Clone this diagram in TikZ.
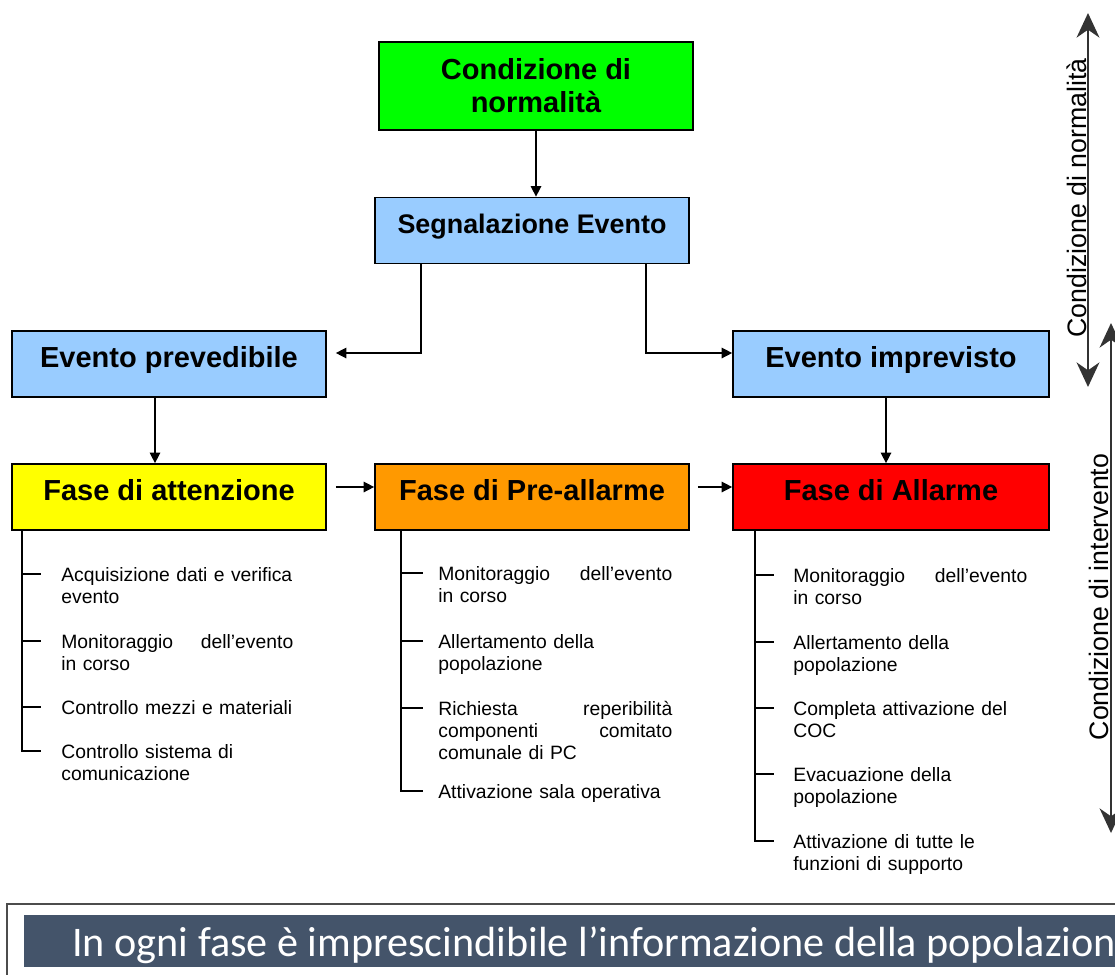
\documentclass[tikz,border=0pt]{standalone}
\usepackage{fontspec}
\setmainfont{Liberation Sans}
\newfontfamily\calibri{Carlito}
\usetikzlibrary{arrows.meta}

\definecolor{verde}{HTML}{00FF00}
\definecolor{azzurro}{HTML}{99CCFF}
\definecolor{giallo}{HTML}{FFFF00}
\definecolor{arancio}{HTML}{FF9900}
\definecolor{rosso}{HTML}{FF0000}
\definecolor{ardesia}{HTML}{44546A}

\tikzset{
  box/.style={draw=black, line width=1pt, minimum width=6.28cm, inner xsep=0pt, font=\bfseries\fontsize{16.5}{18.7}\selectfont},
  riga/.style={inner ysep=0pt, text height=0.72cm, text depth=0.6cm},
  freccia/.style={line width=0.8pt, -{Triangle[length=6pt,width=6pt]}},
  voce/.style={anchor=north west, inner sep=0pt, text width=4.68cm, align=left, font=\fontsize{11}{12.5}\selectfont},
  ramo/.style={line width=1pt},
  fascia/.style={line width=1.1pt, draw=black!80, {Stealth[length=14pt,width=13pt,inset=4.5pt]}-{Stealth[length=14pt,width=13pt,inset=4.5pt]}},
  scritta/.style={rotate=90, anchor=base, inner sep=0pt, font=\fontsize{15.2}{18}\selectfont}
}

\begin{document}
\begin{tikzpicture}[x=0.02cm, y=-0.02cm]
\useasboundingbox (0,0) rectangle (1115,974);

% caselle
\node[box, fill=verde, minimum height=1.76cm, align=center] (cond) at (536,86) {Condizione di\\normalità};
\node[box, riga, fill=azzurro, font=\bfseries\fontsize{15.3}{18}\selectfont] (segn) at (532,230.5) {Segnalazione Evento};
\node[box, riga, fill=azzurro] (prev) at (169,364) {Evento prevedibile};
\node[box, riga, fill=azzurro, minimum width=6.32cm] (impr) at (891,364) {Evento imprevisto};
\node[box, riga, fill=giallo] (att) at (169,497) {Fase di attenzione};
\node[box, riga, fill=arancio] (pre) at (532,497) {Fase di Pre-allarme};
\node[box, riga, fill=rosso, minimum width=6.32cm] (all) at (891,497) {Fase di Allarme};

% frecce
\draw[freccia] (cond.south) -- (cond.south |- segn.north);
\draw[freccia] ([xshift=0.94cm]segn.south west) |- ([xshift=0.18cm, yshift=0.22cm]prev.east);
\draw[freccia] ([xshift=-0.88cm]segn.south east) |- ([yshift=0.22cm]impr.west);
\draw[freccia] ([xshift=-0.28cm]prev.south) -- ([xshift=-0.28cm]att.north);
\draw[freccia] ([xshift=-0.1cm]impr.south) -- ([xshift=-0.1cm]all.north);
\draw[freccia] ([xshift=0.18cm, yshift=0.2cm]att.east) -- ([yshift=0.2cm]pre.west);
\draw[freccia] ([xshift=0.16cm, yshift=0.2cm]pre.east) -- ([yshift=0.2cm]all.west);

% attenzione
\node[voce, text width=4.64cm] (a1) at (61,567) {Acquisizione dati e verifica\\evento};
\node[voce, text width=4.64cm] (a2) at (61,634) {Monitoraggio\hfill dell’evento\\in corso};
\node[voce, text width=4.64cm] (a3) at (61,700) {Controllo mezzi e materiali};
\node[voce, text width=4.64cm] (a4) at (61,744) {Controllo sistema di\\comunicazione};
\foreach \i in {1,...,4}
  \draw[ramo] ([xshift=0.22cm]att.south west) |- ([xshift=-0.4cm, yshift=-0.14cm]a\i.north west);

% pre-allarme
\node[voce] (p1) at (438,566) {Monitoraggio\hfill dell’evento\\in corso};
\node[voce] (p2) at (438,634) {Allertamento della\\popolazione};
\node[voce] (p3) at (438,701) {Richiesta\hfill reperibilità\\componenti\hfill comitato\\comunale di PC};
\node[voce] (p4) at (438,784) {Attivazione sala operativa};
\foreach \i in {1,...,4}
  \draw[ramo] ([xshift=0.54cm]pre.south west) |- ([xshift=-0.3cm, yshift=-0.14cm]p\i.north west);

% allarme
\node[voce] (l1) at (793,568) {Monitoraggio\hfill dell’evento\\in corso};
\node[voce] (l2) at (793,635) {Allertamento della\\popolazione};
\node[voce] (l3) at (793,701) {Completa attivazione del\\COC};
\node[voce] (l4) at (793,767) {Evacuazione della\\popolazione};
\node[voce] (l5) at (793,834) {Attivazione di tutte le\\funzioni di supporto};
\foreach \i in {1,...,5}
  \draw[ramo] ([xshift=0.46cm]all.south west) |- ([xshift=-0.38cm, yshift=-0.14cm]l\i.north west);

% condizioni a destra
\coordinate (n1) at (1088,13);
\coordinate (n2) at (1088,387);
\draw[fascia] (n1) -- (n2);
\node[scritta] (tnorm) at (1086,198) {Condizione di normalità};
\coordinate (i1) at (1111,323);
\coordinate (i2) at (1111,833);
\draw[fascia] (i1) -- (i2);
\node[scritta] (tint) at (1108,597) {Condizione di intervento};

% fascia in basso
\begin{scope}
\clip (0,0) rectangle (1115,974);
\draw[line width=1pt, draw=black!70] (7,904) rectangle (1130,990);
\fill[ardesia] (24,915) rectangle (1130,967);
\node[anchor=base west, inner sep=0pt, text=white, font=\calibri\fontsize{24}{28}\selectfont] (nota) at (72,956) {In ogni fase è imprescindibile l’informazione della popolazione};
\end{scope}
\end{tikzpicture}
\end{document}
